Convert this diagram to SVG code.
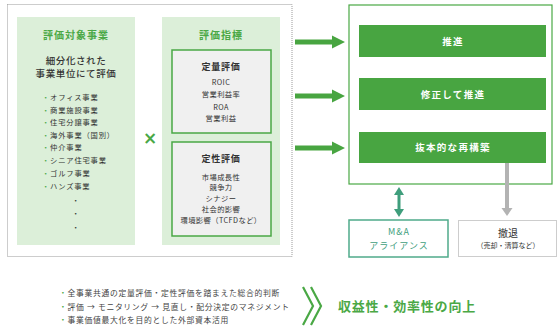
<svg xmlns="http://www.w3.org/2000/svg" width="560" height="330" viewBox="0 0 560 330">
<defs>
<style>
text{font-family:"Noto Sans CJK JP","Noto Sans",sans-serif;}
.dot{fill:none;stroke:#9a9a9a;stroke-width:1;stroke-dasharray:1 1;}
.lg{fill:#dcefd9;}
.inner{fill:#f0f0f0;stroke:#4aa845;stroke-width:1.5;}
.bar{fill:#48a541;}
.ttl{fill:#4aa845;font-size:10px;font-weight:bold;letter-spacing:1px;text-anchor:middle;}
.sub{fill:#333;font-size:9.5px;letter-spacing:0.6px;text-anchor:middle;font-weight:500;}
.li{fill:#333;font-size:7.3px;letter-spacing:0.8px;}
.bul{fill:#4aa845;}
.sm{fill:#333;font-size:7.3px;letter-spacing:0.4px;text-anchor:middle;}
.h2{fill:#333;font-size:9px;font-weight:bold;letter-spacing:0.8px;text-anchor:middle;}
.bt{fill:#fff;font-size:9.5px;font-weight:bold;letter-spacing:1.3px;text-anchor:middle;}
.teal{fill:#3f9e7c;font-size:9px;letter-spacing:1px;text-anchor:middle;}
.bl{fill:#444;font-size:7.8px;letter-spacing:0.7px;}
</style>
</defs>
<rect class="dot" x="7.5" y="4.5" width="284.5" height="252"/>
<g id="target">
<rect class="lg" x="17" y="17" width="118" height="228"/>
<text class="ttl" x="76" y="39">評価対象事業</text>
<text class="sub" x="76" y="64">細分化された</text>
<text class="sub" x="76" y="77">事業単位にて評価</text>
<text class="li" x="42" y="100"><tspan class="bul">・</tspan>オフィス事業</text>
<text class="li" x="42" y="112.5"><tspan class="bul">・</tspan>商業施設事業</text>
<text class="li" x="42" y="125"><tspan class="bul">・</tspan>住宅分譲事業</text>
<text class="li" x="42" y="137.5"><tspan class="bul">・</tspan>海外事業（国別）</text>
<text class="li" x="42" y="150"><tspan class="bul">・</tspan>仲介事業</text>
<text class="li" x="42" y="163"><tspan class="bul">・</tspan>シニア住宅事業</text>
<text class="li" x="42" y="175.5"><tspan class="bul">・</tspan>ゴルフ事業</text>
<text class="li" x="42" y="189"><tspan class="bul">・</tspan>ハンズ事業</text>
<text class="li" x="76" y="203" text-anchor="middle">・</text>
<text class="li" x="76" y="216" text-anchor="middle">・</text>
<text class="li" x="76" y="230" text-anchor="middle">・</text>
</g>
<g id="times">
<text x="150" y="144" fill="#4aa845" font-size="17" font-weight="bold" text-anchor="middle" style="font-family:'DejaVu Sans',sans-serif">×</text>
</g>
<g id="indicators">
<rect class="lg" x="162" y="17" width="118" height="228"/>
<text class="ttl" x="221" y="39">評価指標</text>
<g id="quant">
<rect class="inner" x="172" y="50" width="99" height="83"/>
<text class="h2" x="221" y="70">定量評価</text>
<text class="sm" x="221" y="85">ROIC</text>
<text class="sm" x="221" y="97">営業利益率</text>
<text class="sm" x="221" y="109.5">ROA</text>
<text class="sm" x="221" y="121">営業利益</text>
</g>
<g id="qual">
<rect class="inner" x="172" y="142" width="99" height="94"/>
<text class="h2" x="221" y="162">定性評価</text>
<text class="sm" x="221" y="179.5">市場成長性</text>
<text class="sm" x="221" y="190">競争力</text>
<text class="sm" x="221" y="201">シナジー</text>
<text class="sm" x="221" y="212">社会的影響</text>
<text class="sm" x="221" y="223">環境影響（TCFDなど）</text>
</g>
</g>
<g id="decision">
<rect x="349" y="5" width="203" height="179" fill="#fff" stroke="#4aa845" stroke-width="1.2"/>
<g id="promote"><rect class="bar" x="359" y="25" width="187" height="32"/><text class="bt" x="453" y="44.5">推進</text></g>
<g id="modify"><rect class="bar" x="359" y="78" width="187" height="32"/><text class="bt" x="453" y="97.5">修正して推進</text></g>
<g id="restructure"><rect class="bar" x="359" y="132" width="187" height="31"/><text class="bt" x="453" y="151">抜本的な再構築</text></g>
</g>
<g id="ma">
<rect x="349" y="220" width="99" height="37" fill="#fff" stroke="#4faa8a" stroke-width="1.5"/>
<text class="teal" x="399" y="235">M&amp;A</text>
<text class="teal" x="399" y="248.5">アライアンス</text>
</g>
<g id="exit">
<rect class="dot" x="458.5" y="220.5" width="98" height="36" fill="#fff"/>
<text x="508" y="237" fill="#333" font-size="10" text-anchor="middle">撤退</text>
<text x="508" y="248" fill="#333" font-size="7" text-anchor="middle">（売却・清算など）</text>
</g>
<g id="connectors">
<polygon fill="#48a541" points="295,39.5 332,39.5 332,35.5 345,42 332,48.5 332,44.5 295,44.5"/>
<polygon fill="#48a541" points="295,93.5 332,93.5 332,89.5 345,96 332,102.5 332,98.5 295,98.5"/>
<polygon fill="#48a541" points="295,145.5 332,145.5 332,141.5 345,148 332,154.5 332,150.5 295,150.5"/>
<polygon fill="#3f9e7c" points="399,187 404,195 400.5,195 400.5,209 404,209 399,217 394,209 397.5,209 397.5,195 394,195"/>
<polygon fill="#b3b3b3" points="505,163 509,163 509,208 512.5,208 507,216 501.5,208 505,208"/>
</g>
<g id="summary">
<text class="bl" x="59" y="296"><tspan class="bul">・</tspan>全事業共通の定量評価・定性評価を踏まえた総合的判断</text>
<text class="bl" x="59" y="310"><tspan class="bul">・</tspan>評価 → モニタリング → 見直し・配分決定のマネジメント</text>
<text class="bl" x="59" y="323"><tspan class="bul">・</tspan>事業価値最大化を目的とした外部資本活用</text>
<polyline points="303,287 313,306 303,325" fill="none" stroke="#4aa845" stroke-width="2.2"/>
<polyline points="311,287 321,306 311,325" fill="none" stroke="#4aa845" stroke-width="2.2"/>
<text x="338" y="310.5" fill="#4aa845" font-size="13" font-weight="bold" letter-spacing="0.8">収益性・効率性の向上</text>
</g>
</svg>
